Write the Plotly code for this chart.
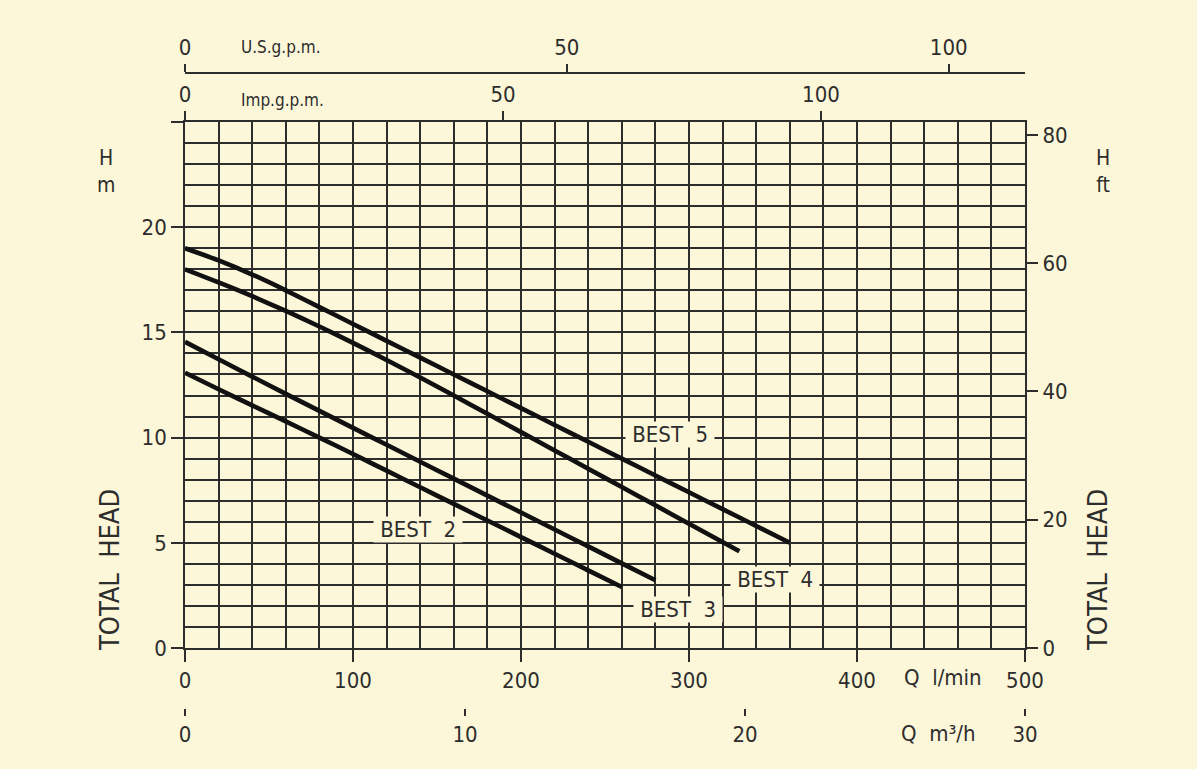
import plotly.graph_objects as go

# ---------------- data ----------------
BEST5_Q = [0, 20, 40, 60, 80, 100, 120, 140, 160, 180, 200, 220, 240, 260, 280, 300, 320, 340, 360]
BEST5_H = [19.0, 18.42, 17.75, 17.0, 16.2, 15.4, 14.6, 13.8, 13.0, 12.2, 11.4, 10.6, 9.8, 9.0,
           8.2, 7.4, 6.6, 5.8, 5.0]
BEST4_Q = [0, 20, 40, 60, 80, 100, 120, 140, 160, 180, 200, 220, 240, 260, 280, 300, 330]
BEST4_H = [18.0, 17.38, 16.72, 16.02, 15.28, 14.5, 13.69, 12.86, 12.0, 11.13, 10.26, 9.39, 8.52,
           7.65, 6.78, 5.91, 4.6]
BEST3_Q = [0, 20, 40, 60, 80, 100, 120, 140, 160, 180, 200, 220, 240, 260, 280]
BEST3_H = [14.55, 13.72, 12.9, 12.08, 11.27, 10.46, 9.66, 8.85, 8.05, 7.24, 6.44, 5.63, 4.83,
           4.02, 3.22]
BEST2_Q = [0, 20, 40, 60, 80, 100, 120, 140, 160, 180, 200, 220, 240, 260]
BEST2_H = [13.08, 12.3, 11.53, 10.77, 10.0, 9.22, 8.43, 7.64, 6.85, 6.06, 5.27, 4.48, 3.69, 2.9]

SERIES = [("BEST 5", BEST5_Q, BEST5_H), ("BEST 4", BEST4_Q, BEST4_H),
          ("BEST 3", BEST3_Q, BEST3_H), ("BEST 2", BEST2_Q, BEST2_H)]

LABEL_NAMES = ["BEST&nbsp;&nbsp;5", "BEST&nbsp;&nbsp;4", "BEST&nbsp;&nbsp;3", "BEST&nbsp;&nbsp;2"]
LABEL_Q = [288.7, 351.2, 293.5, 138.7]
LABEL_H = [10.14, 3.24, 1.81, 5.62]

Q_LMIN_TICKS = [0, 100, 200, 300, 400, 500]
H_M_TICKS = [0, 5, 10, 15, 20, 25]
H_M_TEXT = ["0", "5", "10", "15", "20", ""]
H_FT_TICKS = [0, 20, 40, 60, 80]
GPM_TICKS = [0, 50, 100]
M3H_TICKS = [0, 10, 20, 30]

Q_MAX = 500.0
H_MAX = 25.0
FT_PER_M = 1 / 0.3048
L_PER_IMP_GAL = 4.54609
L_PER_US_GAL = 3.78541

# ---------------- style ----------------
W, H = 1197, 769
BG = "#fdf7d9"
INK = "#2d2d2d"
FONT = "DejaVu Sans Condensed, Liberation Sans Narrow, DejaVu Sans, sans-serif"


def px(x):
    return x / W


def py(y):
    return 1 - y / H


fig = go.Figure()
for name, q, h in SERIES:
    fig.add_trace(go.Scatter(x=q, y=h, mode="lines", name=name,
                             line=dict(color="#111111", width=4.6, shape="spline", smoothing=0.6),
                             showlegend=False, hoverinfo="skip"))
# empty traces so that the secondary scales are drawn
for xa, ya in [("x2", "y"), ("x3", "y"), ("x4", "y"), ("x", "y2")]:
    fig.add_trace(go.Scatter(x=[], y=[], xaxis=xa, yaxis=ya, mode="lines",
                             showlegend=False, hoverinfo="skip"))

XD = [px(185), px(1025)]
YD = [py(648), py(122)]
tickfont = dict(family=FONT, size=22, color=INK)

fig.update_layout(
    width=W, height=H,
    paper_bgcolor=BG, plot_bgcolor=BG,
    margin=dict(l=0, r=0, t=0, b=0, autoexpand=False),
    font=dict(family=FONT, color=INK),
    xaxis=dict(domain=XD, range=[0, Q_MAX], tickvals=Q_LMIN_TICKS, ticks="outside", ticklen=12,
               tickwidth=1.6, tickcolor=INK, showline=True, mirror=True, linecolor=INK, linewidth=1.6,
               showgrid=True, gridcolor=INK, gridwidth=1.6, zeroline=False, tickfont=tickfont,
               minor=dict(dtick=20, showgrid=True, gridcolor=INK, gridwidth=1.6, ticks=""),
               anchor="y"),
    yaxis=dict(domain=YD, range=[0, H_MAX], tickvals=H_M_TICKS, ticktext=H_M_TEXT, ticks="outside",
               ticklen=12, tickwidth=1.6, tickcolor=INK, showline=True, mirror=True, linecolor=INK,
               linewidth=1.6, showgrid=True, gridcolor=INK, gridwidth=1.6, zeroline=False,
               tickfont=tickfont,
               minor=dict(dtick=1, showgrid=True, gridcolor=INK, gridwidth=1.6, ticks=""),
               anchor="x"),
    yaxis2=dict(overlaying="y", side="right", anchor="x", range=[0, H_MAX * FT_PER_M],
                tickvals=H_FT_TICKS, ticks="outside", ticklen=12, tickwidth=1.6, tickcolor=INK,
                showgrid=False, showline=False, zeroline=False, tickfont=tickfont),
    xaxis2=dict(overlaying="x", anchor="free", position=py(73), side="top",
                range=[0, Q_MAX / L_PER_IMP_GAL], tickvals=GPM_TICKS, ticks="outside", ticklen=8,
                tickwidth=1.6, tickcolor=INK, showline=True, linecolor=INK, linewidth=1.6,
                showgrid=False, zeroline=False, tickfont=tickfont),
    xaxis3=dict(overlaying="x", anchor="y", side="top",
                range=[0, Q_MAX / L_PER_US_GAL], tickvals=GPM_TICKS, ticks="outside", ticklen=10,
                tickwidth=1.6, tickcolor=INK, showline=False, showgrid=False, zeroline=False,
                tickfont=tickfont),
    xaxis4=dict(overlaying="x", anchor="free", position=py(708), side="bottom",
                range=[0, Q_MAX * 60 / 1000], tickvals=M3H_TICKS, ticks="outside", ticklen=7,
                tickwidth=1.6, tickcolor=INK, showline=False, showgrid=False, zeroline=False,
                tickfont=tickfont),
)

ann = []
for name, q, h in zip(LABEL_NAMES, LABEL_Q, LABEL_H):
    ann.append(dict(x=q, y=h, xref="x", yref="y", text="&nbsp;" + name + "&nbsp;", showarrow=False,
                    font=dict(family=FONT, size=22, color=INK), bgcolor=BG, borderpad=0))


def txt(x, y, t, size=22, angle=0, xanchor="center"):
    ann.append(dict(x=px(x), y=py(y), xref="paper", yref="paper", text=t, showarrow=False,
                    textangle=angle, xanchor=xanchor, yanchor="middle",
                    font=dict(family=FONT, size=size, color=INK)))


txt(106, 171, "H<br>m", 21)
txt(1103, 171, "H<br>ft", 21)
txt(109, 570, "TOTAL&nbsp;&nbsp;HEAD", 27, -90)
txt(1097, 570, "TOTAL&nbsp;&nbsp;HEAD", 27, -90)
txt(239, 47, "U.S.g.p.m.", 17, xanchor="left")
txt(239, 100, "Imp.g.p.m.", 17, xanchor="left")
txt(943, 677, "Q&nbsp;&nbsp;l/min", 22)
txt(938, 733, "Q&nbsp;&nbsp;m³/h", 22)

fig.update_layout(annotations=ann)
fig.write_html("out.html", config={"displayModeBar": False},
               post_script="document.body.style.margin='0px';")
